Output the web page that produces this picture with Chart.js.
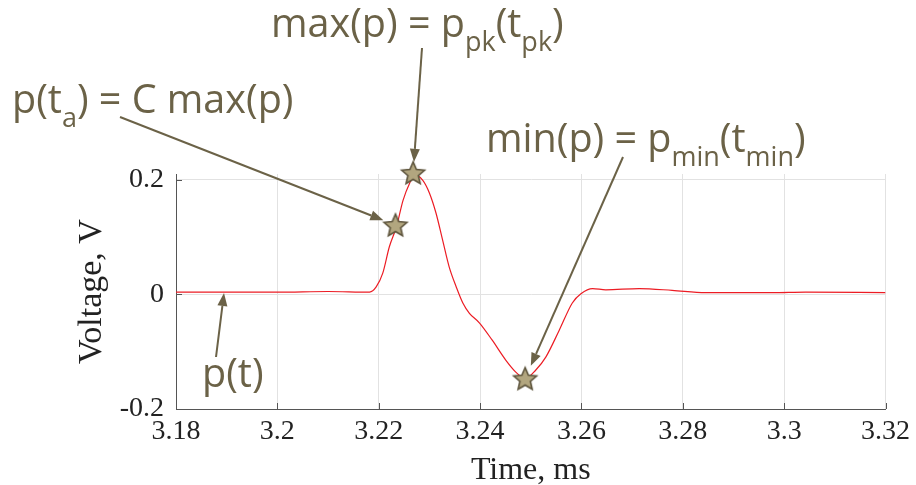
<!DOCTYPE html>
<html>
<head>
<meta charset="utf-8">
<script src="https://cdn.jsdelivr.net/npm/chart.js@4.4.1/dist/chart.umd.min.js"></script>
<style>
  html, body { margin: 0; padding: 0; background: #fff; }
  canvas { display: block; }
</style>
</head>
<body>
<canvas id="pulseChart" width="916" height="485"></canvas>
<script>
// Waveform (time in ms, voltage in V)
const timeMs = [3.18, 3.19, 3.2, 3.21, 3.2182, 3.2195, 3.2208, 3.2221, 3.2235, 3.2248,
                3.2261, 3.2271, 3.2287, 3.23, 3.2313, 3.2326, 3.2339, 3.2353, 3.2366, 3.2379,
                3.2399, 3.2424, 3.2451, 3.2471, 3.2489, 3.251, 3.253, 3.2556, 3.2582, 3.2599,
                3.2622, 3.2648, 3.2714, 3.2779, 3.2845, 3.2976, 3.3042, 3.32];
const voltage = [0.004, 0.004, 0.004, 0.005, 0.004, 0.013, 0.037, 0.083, 0.118, 0.164,
                 0.194, 0.208, 0.199, 0.177, 0.142, 0.095, 0.048, 0.013, -0.015, -0.033,
                 -0.05, -0.08, -0.115, -0.136, -0.147, -0.132, -0.109, -0.063, -0.015, 0.001,
                 0.01, 0.008, 0.01, 0.007, 0.003, 0.003, 0.004, 0.003];

// Marked points: p(t_a), max(p), min(p)
const markTime = [3.2233, 3.2268, 3.2489];
const markVolt = [0.121, 0.212, -0.147];

const xTicks = [3.18, 3.2, 3.22, 3.24, 3.26, 3.28, 3.3, 3.32];
const xTickLabels = ['3.18', '3.2', '3.22', '3.24', '3.26', '3.28', '3.3', '3.32'];
const yTicks = [-0.2, 0, 0.2];
const yTickLabels = ['-0.2', '0', '0.2'];

const noteColor = '#6b6247';

// Annotation text: [text, isSubscript] pieces, placed in pixels
const notes = [
    { parts: [['max(p) = p', 0], ['pk', 1], ['(t', 0], ['pk', 1], [')', 0]], x: 271, y: 37 },
    { parts: [['p(t', 0], ['a', 1], [') = C max(p)', 0]], x: 12, y: 113 },
    { parts: [['min(p) = p', 0], ['min', 1], ['(t', 0], ['min', 1], [')', 0]], x: 486, y: 152 },
    { parts: [['p(t)', 0]], x: 202, y: 387 }
];

// Arrows: tail in pixels, head at a marked point (or the trace)
const arrows = [
    { from: [422, 48], mark: 1, gap: 11 },
    { from: [120, 117], mark: 0, gap: 13 },
    { from: [623, 157], mark: 2, gap: 14 },
    { from: [216, 357], at: [3.1895, 0.004], gap: 1 }
];

function makeStar(r) {
    const size = Math.ceil(r * 2 + 4);
    const c = document.createElement('canvas');
    c.width = c.height = size;
    const g = c.getContext('2d');
    const cx = size / 2, cy = size / 2 + 1;
    g.beginPath();
    for (let i = 0; i < 10; i++) {
        const rad = i % 2 ? r * 0.46 : r;
        const a = -Math.PI / 2 + i * Math.PI / 5;
        g.lineTo(cx + rad * Math.cos(a), cy + rad * Math.sin(a));
    }
    g.closePath();
    g.fillStyle = '#b2a67f';
    g.fill();
    g.lineWidth = 1.6;
    g.strokeStyle = '#5c533b';
    g.stroke();
    return c;
}

function drawRich(ctx, parts, x, y) {
    ctx.textBaseline = 'alphabetic';
    ctx.textAlign = 'left';
    parts.forEach(([text, sub]) => {
        ctx.font = sub ? '27px "Open Sans"' : '39.5px "Open Sans"';
        ctx.fillText(text, x, sub ? y + 14 : y);
        x += ctx.measureText(text).width;
    });
}

function drawArrow(ctx, x0, y0, x1, y1) {
    const ang = Math.atan2(y1 - y0, x1 - x0);
    const len = 13, half = 5;
    const bx = x1 - len * Math.cos(ang), by = y1 - len * Math.sin(ang);
    ctx.beginPath();
    ctx.moveTo(x0, y0);
    ctx.lineTo(bx, by);
    ctx.stroke();
    ctx.beginPath();
    ctx.moveTo(x1, y1);
    ctx.lineTo(bx + half * Math.sin(ang), by - half * Math.cos(ang));
    ctx.lineTo(bx - half * Math.sin(ang), by + half * Math.cos(ang));
    ctx.closePath();
    ctx.fill();
}

const overlay = {
    id: 'overlay',
    beforeDatasetsDraw(chart) {
        // short inward tick marks
        const { ctx, chartArea, scales: { x, y } } = chart;
        ctx.save();
        ctx.strokeStyle = '#555';
        ctx.lineWidth = 1;
        ctx.beginPath();
        xTicks.forEach(v => {
            const px = Math.round(x.getPixelForValue(v)) + 0.5;
            ctx.moveTo(px, chartArea.bottom);
            ctx.lineTo(px, chartArea.bottom - 6);
        });
        yTicks.forEach(v => {
            const py = Math.round(y.getPixelForValue(v)) + 0.5;
            ctx.moveTo(chartArea.left, py);
            ctx.lineTo(chartArea.left + 6, py);
        });
        ctx.stroke();
        ctx.restore();
    },
    afterDatasetsDraw(chart) {
        const { ctx, scales: { x, y } } = chart;
        ctx.save();
        ctx.strokeStyle = noteColor;
        ctx.fillStyle = noteColor;
        ctx.lineWidth = 2;
        arrows.forEach(a => {
            const t = a.at ? a.at : [markTime[a.mark], markVolt[a.mark]];
            let tx = x.getPixelForValue(t[0]);
            let ty = y.getPixelForValue(t[1]);
            const dx = a.from[0] - tx, dy = a.from[1] - ty;
            const d = Math.hypot(dx, dy);
            tx += dx / d * a.gap;
            ty += dy / d * a.gap;
            drawArrow(ctx, a.from[0], a.from[1], tx, ty);
        });
        notes.forEach(n => drawRich(ctx, n.parts, n.x, n.y));
        ctx.restore();
    }
};

const tickFont = { family: '"Liberation Serif", "Times New Roman", serif', size: 28 };

new Chart(document.getElementById('pulseChart'), {
    type: 'scatter',
    data: {
        datasets: [
            {
                label: 'marks',
                data: markTime.map((t, i) => ({ x: t, y: markVolt[i] })),
                pointStyle: makeStar(12),
                pointRadius: 12,
                showLine: false,
                clip: false
            },
            {
                label: 'p(t)',
                data: timeMs.map((t, i) => ({ x: t, y: voltage[i] })),
                showLine: true,
                borderColor: '#ec1c24',
                borderWidth: 1.2,
                pointRadius: 0,
                cubicInterpolationMode: 'monotone'
            }
        ]
    },
    options: {
        responsive: false,
        animation: false,
        devicePixelRatio: 1,
        layout: { padding: { left: 0, right: 29, top: 174, bottom: 0 } },
        plugins: {
            legend: { display: false },
            tooltip: { enabled: false }
        },
        scales: {
            x: {
                type: 'linear',
                min: 3.18,
                max: 3.32,
                afterBuildTicks: s => { s.ticks = xTicks.map(v => ({ value: v })); },
                afterFit: s => { s.height = 76; },
                ticks: {
                    callback: (v, i) => xTickLabels[i],
                    font: tickFont,
                    color: '#222',
                    padding: 6,
                    maxRotation: 0,
                    autoSkip: false
                },
                grid: { color: '#e2e2e2', drawTicks: false },
                border: { color: '#555', width: 1 },
                title: {
                    display: true,
                    text: 'Time, ms',
                    color: '#222',
                    font: { family: '"Liberation Serif", serif', size: 32, lineHeight: 1 },
                    padding: { top: 0, bottom: -2 }
                }
            },
            y: {
                min: -0.2,
                max: 0.21,
                afterBuildTicks: s => { s.ticks = yTicks.map(v => ({ value: v })); },
                afterFit: s => { s.width = 176; },
                ticks: {
                    callback: (v, i) => yTickLabels[i],
                    font: tickFont,
                    color: '#222',
                    padding: 12
                },
                grid: { color: '#e2e2e2', drawTicks: false },
                border: { color: '#555', width: 1 },
                title: {
                    display: true,
                    text: 'Voltage, V',
                    color: '#222',
                    font: { family: '"Liberation Serif", serif', size: 34, lineHeight: 1 },
                    padding: { top: 75, bottom: 0 }
                }
            }
        }
    },
    plugins: [overlay]
});
</script>
</body>
</html>
